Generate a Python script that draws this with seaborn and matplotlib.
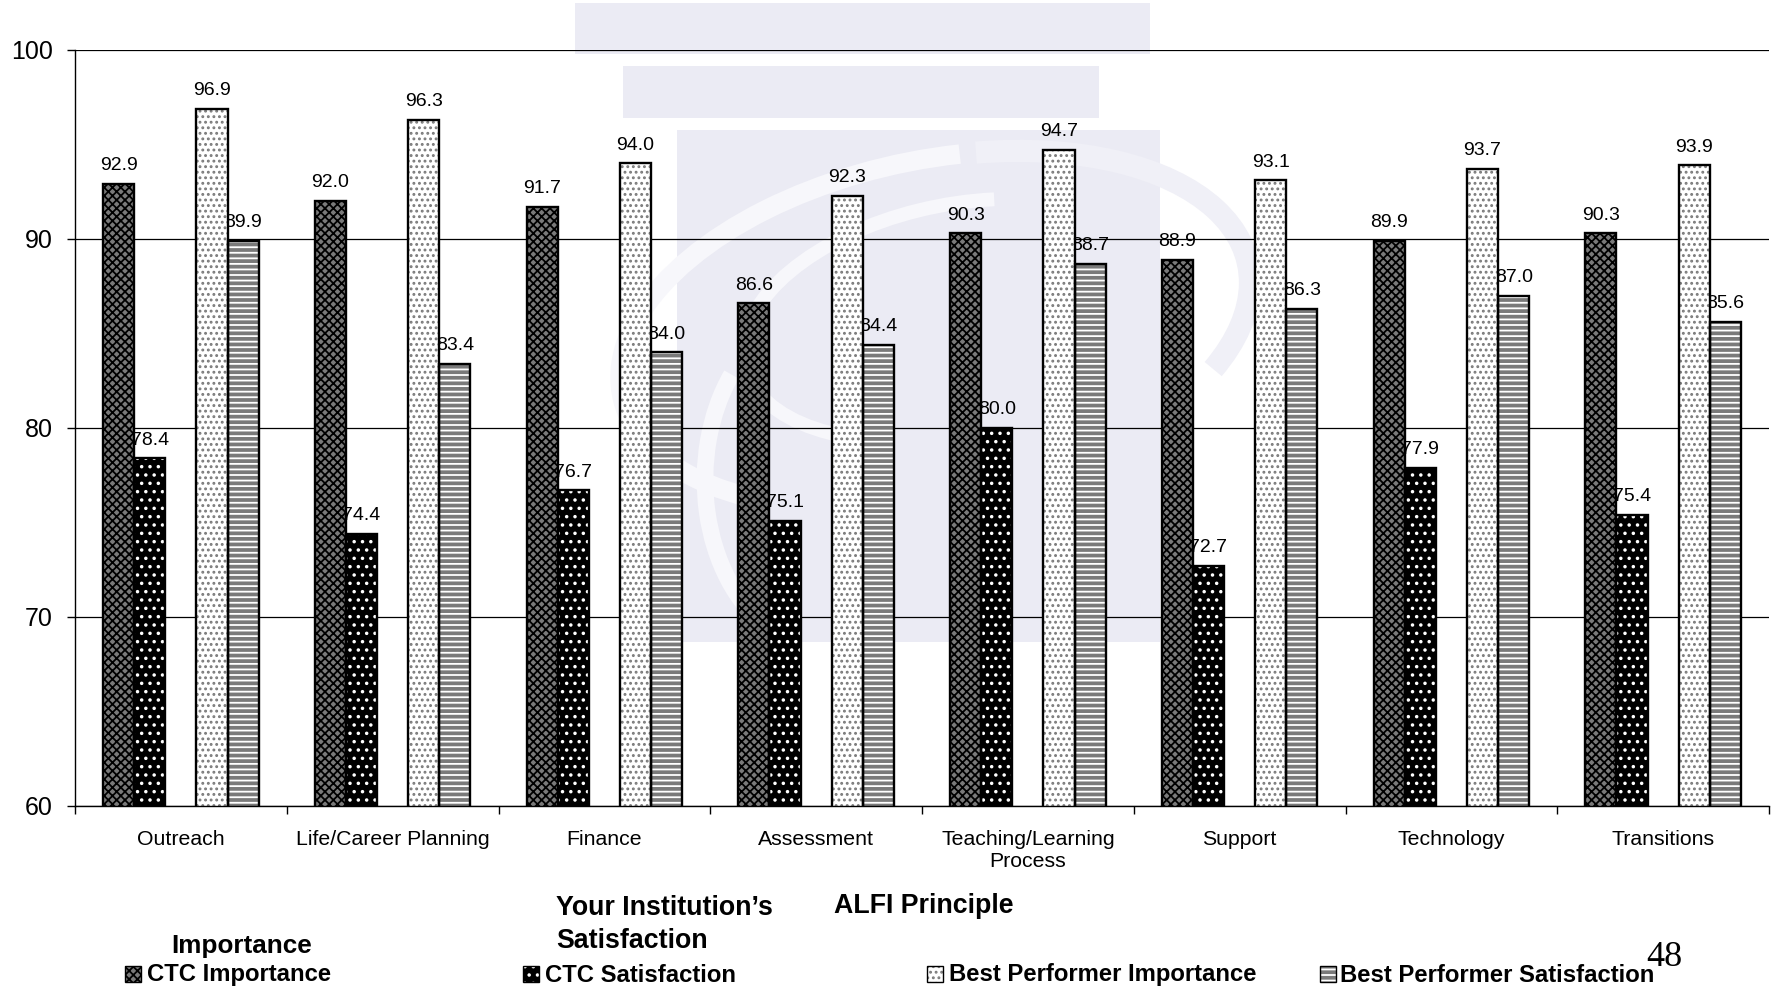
import numpy as np
import pandas as pd
import seaborn as sns
import matplotlib
matplotlib.use("Agg")
import matplotlib.pyplot as plt
from matplotlib.patches import Rectangle, Arc
from matplotlib.transforms import Affine2D

# ---- data -------------------------------------------------------------
principles = ["Outreach", "Life/Career Planning", "Finance", "Assessment",
              "Teaching/Learning\nProcess", "Support", "Technology", "Transitions"]
ctc_importance = [92.9, 92.0, 91.7, 86.6, 90.3, 88.9, 89.9, 90.3]
ctc_satisfaction = [78.4, 74.4, 76.7, 75.1, 80.0, 72.7, 77.9, 75.4]
best_importance = [96.9, 96.3, 94.0, 92.3, 94.7, 93.1, 93.7, 93.9]
best_satisfaction = [89.9, 83.4, 84.0, 84.4, 88.7, 86.3, 87.0, 85.6]
series_names = ["CTC Importance", "CTC Satisfaction",
                "Best Performer Importance", "Best Performer Satisfaction"]
y_ticks = [60, 70, 80, 90, 100]

rows = []
for name, vals in zip(series_names,
                      [ctc_importance, ctc_satisfaction, best_importance, best_satisfaction]):
    for p, v in zip(principles, vals):
        rows.append({"principle": p, "series": name, "score": v})
df = pd.DataFrame(rows)

# an empty hue level keeps a gap between the CTC pair and the Best Performer pair
spacer = " "
hue_order = series_names[:2] + [spacer] + series_names[2:]

face = {"CTC Importance": "#7a7a7a", "CTC Satisfaction": "#000000",
        spacer: "#ffffff",
        "Best Performer Importance": "#ffffff",
        "Best Performer Satisfaction": "#7a7a7a"}
hatches = {"CTC Importance": ("xxxx", "#000000"),
           "CTC Satisfaction": ("..", "#ffffff"),
           "Best Performer Importance": ("...", "#7a7a7a"),
           "Best Performer Satisfaction": ("---", "#ffffff")}

# ---- style ------------------------------------------------------------
sns.set_theme(style="white")
plt.rcParams["font.family"] = ["Liberation Sans", "DejaVu Sans"]
plt.rcParams["hatch.linewidth"] = 1.3
for key in ("text.color", "axes.labelcolor", "xtick.color", "ytick.color",
            "xtick.labelcolor", "ytick.labelcolor"):
    plt.rcParams[key] = "black"

W, H = 1776, 990
fig = plt.figure(figsize=(W / 100, H / 100), dpi=100)
fig.patch.set_facecolor("white")
pix = Affine2D().scale(1, -1).translate(0, H)   # top-left pixel coordinates

# ---- slide background logo (faint lavender) ---------------------------
lav = "#EBEBF4"
for x0, y0, x1, y1 in [(575, 3, 1150, 54), (623, 66, 1099, 118), (677, 130, 1160, 642)]:
    fig.add_artist(Rectangle((x0, y0), x1 - x0, y1 - y0, transform=pix,
                             facecolor=lav, edgecolor="none", zorder=-5))
for (cx, cy, w, h, ang, t1, t2, col, lw) in [
        (935, 330, 640, 340, -12, 150, 290, "#F7F7FB", 14),
        (955, 320, 430, 230, -12, 140, 300, "#F7F7FB", 10),
        (935, 330, 640, 340, -12, 295, 380, "#F0F0F7", 16),
        (820, 480, 230, 330, 0, 110, 230, "#F7F7FB", 12)]:
    fig.add_artist(Arc((cx, cy), w, h, angle=ang, theta1=t1, theta2=t2,
                       transform=pix, color=col, lw=lw, zorder=-4))

# ---- axes -------------------------------------------------------------
ax = fig.add_axes([75 / W, 1 - 806 / H, (1769 - 75) / W, (806 - 50) / H])
ax.set_facecolor("none")

common = dict(data=df, x="principle", y="score", hue="series", order=principles,
              hue_order=hue_order, width=0.735, gap=0, errorbar=None,
              legend=False, saturation=1, ax=ax)

sns.barplot(palette=face, linewidth=0, zorder=2, **common)
filled = [c for c in ax.containers if len(c)]
for name, cont in zip(series_names, filled):
    hatch, hcol = hatches[name]
    for bar in cont:
        bar.set_hatch(hatch)
        bar.set_edgecolor(hcol)
    ax.bar_label(cont, fmt="%.1f", padding=7, fontsize=14, color="black", zorder=1.5)

# black outlines on top of the patterned fills
sns.barplot(palette={k: "black" for k in hue_order}, fill=False,
            linewidth=1.7, zorder=2.1, **common)

ax.set_xlim(-0.5, 7.5)
ax.set_ylim(60, 100)
ax.set_yticks(y_ticks)
ax.set_yticklabels([str(t) for t in y_ticks])
ax.set_xlabel("")
ax.set_ylabel("")
ax.set_axisbelow(True)
ax.yaxis.grid(True, color="black", lw=0.9)
ax.xaxis.grid(False)

ax.set_xticks(range(len(principles)))
ax.set_xticklabels(principles, fontsize=15.3, linespacing=1.25)
ax.set_xticks(np.arange(-0.5, len(principles), 1.0), minor=True)
ax.tick_params(axis="x", which="major", bottom=True, length=0, pad=17, colors="black")
ax.tick_params(axis="x", which="minor", bottom=True, length=6, width=1, color="black")
ax.tick_params(axis="y", left=True, length=6, width=1, pad=10, labelsize=18,
               color="black", labelcolor="black")

for side in ("top", "right"):
    ax.spines[side].set_visible(False)
for side in ("left", "bottom"):
    ax.spines[side].set_color("black")
    ax.spines[side].set_linewidth(1)

# ---- titles and legend ------------------------------------------------
fig.text(556, 908, "Your Institution\u2019s", transform=pix, fontsize=19.3,
         fontweight="bold", ha="left", va="center")
fig.text(556, 941, "Satisfaction", transform=pix, fontsize=19.3,
         fontweight="bold", ha="left", va="center")
fig.text(834, 906, "ALFI Principle", transform=pix, fontsize=19.3,
         fontweight="bold", ha="left", va="center")
fig.text(242, 946, "Importance", transform=pix, fontsize=18.8,
         fontweight="bold", ha="center", va="center")

legend_items = [(125, 147), (523, 545), (927, 949), (1320, 1340)]
for name, (mx, tx) in zip(series_names, legend_items):
    hatch, hcol = hatches[name]
    fig.add_artist(Rectangle((mx, 966), 16, 16, transform=pix, facecolor=face[name],
                             edgecolor=hcol, lw=0, hatch=hatch, zorder=3))
    fig.add_artist(Rectangle((mx, 966), 16, 16, transform=pix, fill=False,
                             edgecolor="black", lw=1, zorder=3.1))
    fig.text(tx, 975, name, transform=pix, fontsize=17.2, fontweight="bold",
             ha="left", va="center")

fig.text(1646, 957, "48", transform=pix, fontsize=26, ha="left", va="center",
         family=["Liberation Serif", "DejaVu Serif"])

fig.savefig("out.png", dpi=100)
